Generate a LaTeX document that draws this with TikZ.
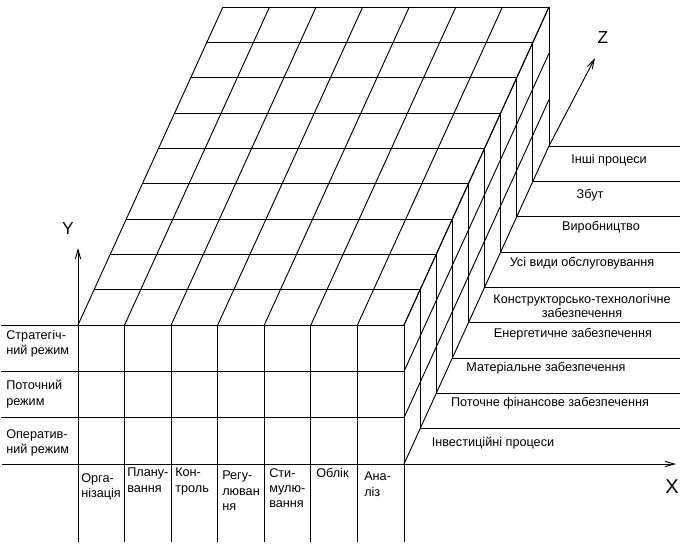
\documentclass[tikz,border=0pt]{standalone}
\usepackage{fontspec}
\setmainfont{Liberation Sans}
\usetikzlibrary{arrows.meta}

\tikzset{
  gridline/.style={line width=0.7pt, black},
  axisline/.style={line width=0.7pt, black, -{Straight Barb[length=7pt,width=4pt]}},
  rowlabel/.style={anchor=west, align=left, inner sep=0pt, font=\fontsize{9.5}{11.5}\selectfont},
  collabel/.style={anchor=north west, align=left, inner sep=0pt, font=\fontsize{9.5}{11.5}\selectfont},
  zlabel/.style={inner sep=0pt, align=center, font=\fontsize{9.5}{10}\selectfont},
  axislabel/.style={inner sep=0pt, font=\fontsize{13}{13}\selectfont},
}

\begin{document}
\begin{tikzpicture}[x=0.75pt,y=-0.75pt]
  % pixel frame of the reference, y runs down
  \useasboundingbox (0,0) rectangle (680,546);
  \coordinate (edge) at (680,0);
  \coordinate (ytip) at (78,248);
  \coordinate (ztip) at (595,58);
  \coordinate (xstart) at (2,464);
  \coordinate (xtip) at (676,464);
  % the box: 7 functions x 3 modes x 9 processes
  % x = 46.6px per column, y = 46.3px per row, z = (16.1,-35.3)px per layer
  \begin{scope}[shift={(78,464)}, x={(34.93pt,0pt)}, y={(0pt,34.75pt)}, z={(12.08pt,26.5pt)}]
    % front face
    \foreach \i in {0,...,7}
      \draw[gridline] (\i,-1.68,0) -- (\i,3,0);
    \foreach \j in {1,2,3}
      \draw[gridline] (-1.65,\j,0) -- (7,\j,0);
    % top face
    \foreach \i in {0,...,7}
      \draw[gridline] (\i,3,0) -- (\i,3,9);
    \foreach \k in {1,...,9}
      \draw[gridline] (0,3,\k) -- (7,3,\k);
    % right face
    \foreach \k in {1,...,9}
      \draw[gridline] (7,0,\k) -- (7,3,\k);
    \foreach \j in {0,...,3}
      \draw[gridline] (7,\j,0) -- (7,\j,9);
    % process layers on the floor
    \foreach \k in {1,...,9} {
      \coordinate (f\k) at (7,0,\k);
      \draw[gridline] (f\k) -- (f\k -| edge);
    }
    \coordinate (ybase) at (0,3,0);
  \end{scope}
  % axes
  \draw[axisline] (xstart) -- (xtip);
  \draw[axisline] (ybase) -- (ytip);
  \draw[axisline] (f9) -- (ztip);
  \node[axislabel] (ylab) at (68,229) {Y};
  \node[axislabel] (zlab) at (603,38) {Z};
  \node[axislabel, font=\fontsize{15}{15}\selectfont] (xlab) at (672,487) {X};
  % modes (Y)
  \node[rowlabel] (strat) at (6,344) {Стратегіч-\\ний режим};
  \node[rowlabel] (potoch) at (6,394) {Поточний\\режим};
  \node[rowlabel] (operat) at (6,443) {Оператив-\\ний режим};
  % functions (X)
  \node[collabel] (org) at (81,473) {Орга-\\нізація};
  \node[collabel] (plan) at (127,468) {Плану-\\вання};
  \node[collabel] (kontr) at (175,468) {Кон-\\троль};
  \node[collabel] (reg) at (222,471) {Регу-\\люван\\ня};
  \node[collabel] (stym) at (269,468) {Сти-\\мулю-\\вання};
  \node[collabel] (oblik) at (316,468) {Облік};
  \node[collabel] (anal) at (364,472) {Ана-\\ліз};
  % processes (Z)
  \node[zlabel] (inshi) at (609,160) {Інші процеси};
  \node[zlabel] (zbut) at (590,195) {Збут};
  \node[zlabel] (vyrob) at (601,227) {Виробництво};
  \node[zlabel] (obsl) at (582,263) {Усі види обслуговування};
  \node[zlabel] (konstr) at (582,306) {Конструкторсько-технологічне\\забезпечення};
  \node[zlabel] (energ) at (573,334) {Енергетичне забезпечення};
  \node[zlabel] (mater) at (546,368) {Матеріальне забезпечення};
  \node[zlabel] (fin) at (550,403) {Поточне фінансове забезпечення};
  \node[zlabel] (invest) at (493,443) {Інвестиційні процеси};
\end{tikzpicture}
\end{document}
